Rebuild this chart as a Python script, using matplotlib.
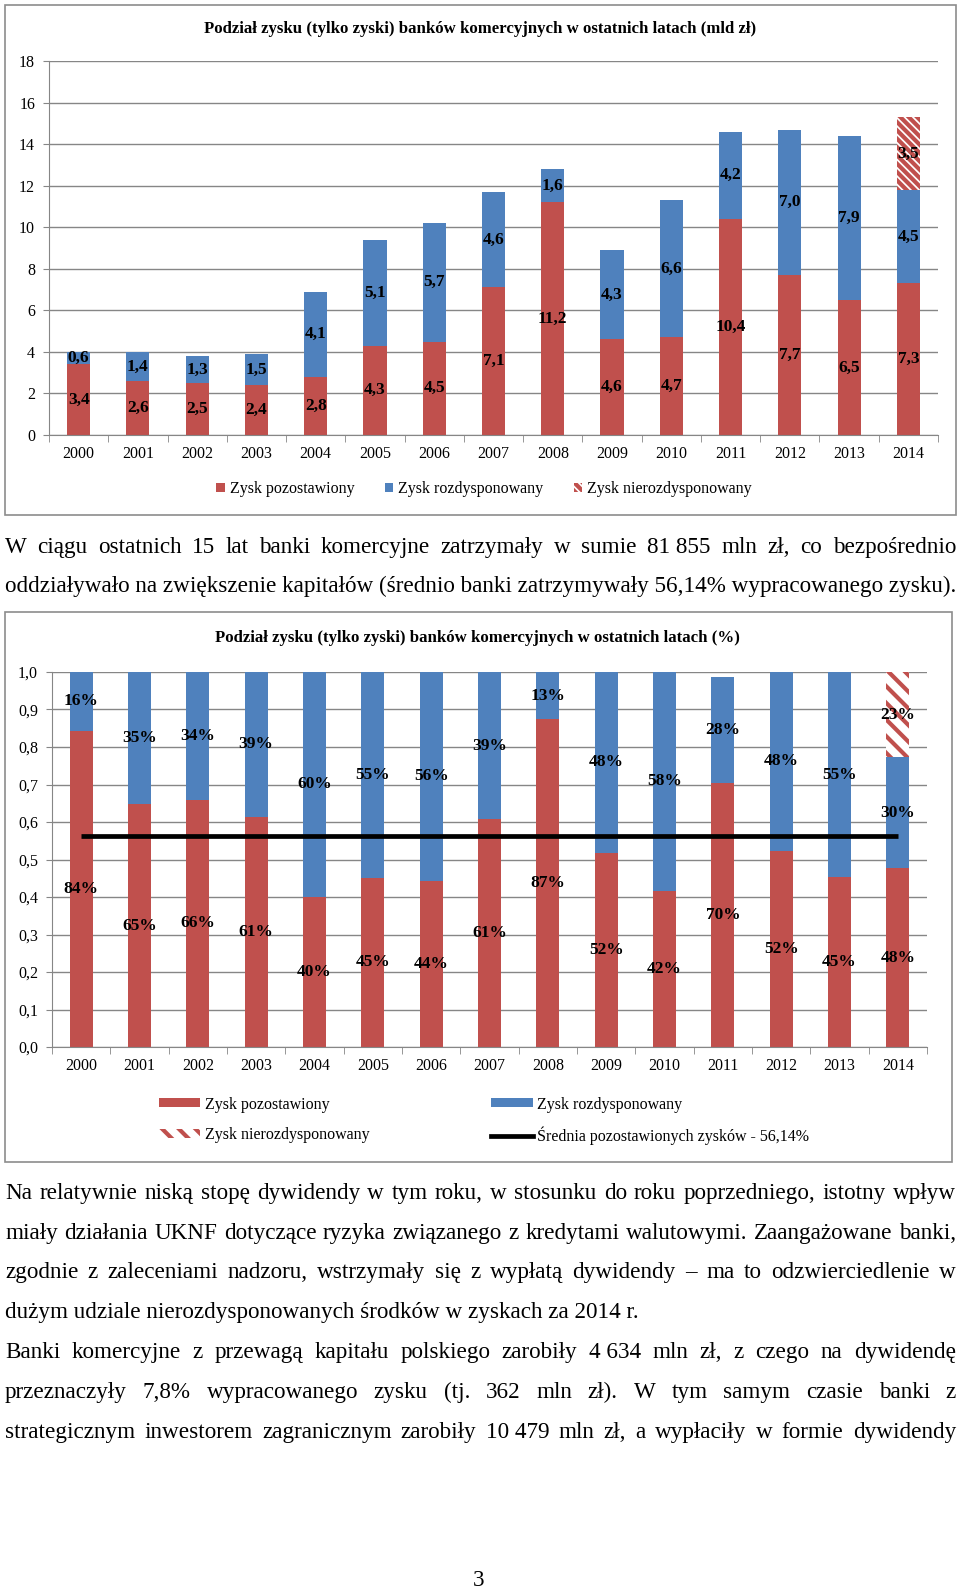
import numpy as np
import matplotlib
matplotlib.use('Agg')
import matplotlib.pyplot as plt
from matplotlib.patches import Rectangle, Patch
from matplotlib.lines import Line2D

plt.rcParams['font.family'] = ['Liberation Serif', 'DejaVu Serif']
plt.rcParams['hatch.linewidth'] = 3.0

W, H = 960, 1589
CZERWONY = '#C0504D'
NIEBIESKI = '#4F81BD'
SZARY = '#868686'

# ─────────────────────────────────────────────
# DANE
# ─────────────────────────────────────────────
LATA = [str(r) for r in range(2000, 2015)]

# mld zł
ZYSK_POZOSTAWIONY = [3.4, 2.6, 2.5, 2.4, 2.8, 4.3, 4.5, 7.1, 11.2, 4.6, 4.7, 10.4, 7.7, 6.5, 7.3]
ZYSK_ROZDYSPONOWANY = [0.6, 1.4, 1.3, 1.5, 4.1, 5.1, 5.7, 4.6, 1.6, 4.3, 6.6, 4.2, 7.0, 7.9, 4.5]
ZYSK_NIEROZDYSPONOWANY = [0, 0, 0, 0, 0, 0, 0, 0, 0, 0, 0, 0, 0, 0, 3.5]

# udział w zysku
UDZIAL_POZOSTAWIONY = [0.843, 0.648, 0.659, 0.614, 0.401, 0.452, 0.444, 0.607, 0.874, 0.518,
                       0.417, 0.703, 0.523, 0.453, 0.477]
UDZIAL_ROZDYSPONOWANY = [0.157, 0.352, 0.341, 0.386, 0.599, 0.548, 0.556, 0.393, 0.126, 0.482,
                         0.583, 0.284, 0.477, 0.547, 0.296]
UDZIAL_NIEROZDYSPONOWANY = [0, 0, 0, 0, 0, 0, 0, 0, 0, 0, 0, 0, 0, 0, 0.227]
SREDNIA_POZOSTAWIONYCH = 0.5614

TYTUL_1 = 'Podział zysku (tylko zyski) banków komercyjnych w ostatnich latach (mld zł)'
TYTUL_2 = 'Podział zysku (tylko zyski) banków komercyjnych w ostatnich latach (%)'
ETYKIETY = ['Zysk pozostawiony', 'Zysk rozdysponowany', 'Zysk nierozdysponowany']
ETYKIETA_SREDNIEJ = 'Średnia pozostawionych zysków - 56,14%'

NBSP = '\u00a0'
AKAPIT_1 = [
    ('W ciągu ostatnich 15 lat banki komercyjne zatrzymały w sumie 81' + NBSP + '855 mln zł, co bezpośrednio', True),
    ('oddziaływało na zwiększenie kapitałów (średnio banki zatrzymywały 56,14% wypracowanego zysku).', False),
]
AKAPIT_2 = [
    ('Na relatywnie niską stopę dywidendy w tym roku, w stosunku do roku poprzedniego, istotny wpływ', True),
    ('miały działania UKNF dotyczące ryzyka związanego z kredytami walutowymi. Zaangażowane banki,', True),
    ('zgodnie z zaleceniami nadzoru, wstrzymały się z wypłatą dywidendy – ma to odzwierciedlenie w', True),
    ('dużym udziale nierozdysponowanych środków w zyskach za 2014 r.', False),
    ('Banki komercyjne z przewagą kapitału polskiego zarobiły 4' + NBSP + '634 mln zł, z czego na dywidendę', True),
    ('przeznaczyły 7,8% wypracowanego zysku (tj. 362 mln zł). W tym samym czasie banki z', True),
    ('strategicznym inwestorem zagranicznym zarobiły 10' + NBSP + '479 mln zł, a wypłaciły w formie dywidendy', True),
]


def fx(x):
    return x / W


def fy(y):
    return 1 - y / H


fig = plt.figure(figsize=(W / 100, H / 100), dpi=100)
renderer = fig.canvas.get_renderer()


def szerokosc(tekst, fontsize, **kw):
    t = fig.text(0, 0, tekst, fontsize=fontsize, **kw)
    w = t.get_window_extent(renderer=renderer).width
    t.remove()
    return w


def dopasuj(tekst, docelowa, **kw):
    return 10 * docelowa / szerokosc(tekst, 10, **kw)


def ramka(x0, y0, x1, y1):
    fig.add_artist(Rectangle((fx(x0), fy(y1)), (x1 - x0) / W, (y1 - y0) / H,
                             transform=fig.transFigure, fill=False, ec='#8c8c8c', lw=1.2))


def przygotuj_os(ax, ymax):
    ax.set_xlim(-0.5, len(LATA) - 0.5)
    ax.set_ylim(0, ymax)
    ax.set_xticks(range(len(LATA)))
    ax.set_xticklabels(LATA)
    ax.set_xticks(np.arange(-0.5, len(LATA), 1), minor=True)
    ax.tick_params(axis='x', which='major', length=0, pad=8, labelsize=11.5)
    ax.tick_params(axis='x', which='minor', length=5, color=SZARY)
    ax.tick_params(axis='y', length=4, color=SZARY, pad=6, labelsize=11.5)
    ax.yaxis.grid(True, color=SZARY, lw=1)
    ax.set_axisbelow(True)
    for s in ['top', 'right']:
        ax.spines[s].set_visible(False)
    for s in ['left', 'bottom']:
        ax.spines[s].set_color(SZARY)


def etykiety(ax, x, dol, wartosci, fmt):
    for xi, b, v in zip(x, dol, wartosci):
        if v > 0:
            ax.text(xi, b + v / 2, fmt(v), ha='center', va='center',
                    fontsize=12.5, fontweight='bold', color='black')


x = np.arange(len(LATA))

# ─────────────────────────────────────────────
# WYKRES 1 — mld zł
# ─────────────────────────────────────────────
ramka(5, 5, 956, 515)
fig.text(fx(480), fy(29), TYTUL_1, ha='center', va='center', fontweight='bold',
         fontsize=dopasuj(TYTUL_1, 552, fontweight='bold'))

ax1 = fig.add_axes([fx(49), fy(435), (938 - 49) / W, (435 - 61) / H])
przygotuj_os(ax1, 18)
ax1.set_yticks(range(0, 19, 2))

poz = np.array(ZYSK_POZOSTAWIONY)
roz = np.array(ZYSK_ROZDYSPONOWANY)
nie = np.array(ZYSK_NIEROZDYSPONOWANY)
ax1.bar(x, poz, width=0.39, color=CZERWONY)
ax1.bar(x, roz, width=0.39, bottom=poz, color=NIEBIESKI)
ax1.bar(x, nie, width=0.39, bottom=poz + roz, color='white', edgecolor=CZERWONY,
        lw=0, hatch='\\\\\\\\')

fmt_mld = lambda v: f'{v:.1f}'.replace('.', ',')
etykiety(ax1, x, np.zeros(len(x)), poz, fmt_mld)
etykiety(ax1, x, poz, roz, fmt_mld)
etykiety(ax1, x, poz + roz, nie, fmt_mld)

fig.legend(handles=[Patch(fc=CZERWONY), Patch(fc=NIEBIESKI),
                    Patch(fc='white', ec=CZERWONY, lw=0, hatch='\\\\\\\\')],
           labels=ETYKIETY, ncol=3, loc='center', bbox_to_anchor=(fx(484), fy(489)),
           frameon=False, handlelength=0.55, handleheight=0.55, handletextpad=0.3,
           columnspacing=1.9, fontsize=11.5)

# ─────────────────────────────────────────────
# WYKRES 2 — udział %
# ─────────────────────────────────────────────
ramka(5, 612, 952, 1162)
fig.text(fx(477), fy(638), TYTUL_2, ha='center', va='center', fontweight='bold',
         fontsize=dopasuj(TYTUL_2, 525, fontweight='bold'))

ax2 = fig.add_axes([fx(52), fy(1047), (927 - 52) / W, (1047 - 672) / H])
przygotuj_os(ax2, 1.0)
ticks = np.round(np.arange(0, 1.01, 0.1), 1)
ax2.set_yticks(ticks)
ax2.set_yticklabels([f'{t:.1f}'.replace('.', ',') for t in ticks])

upoz = np.array(UDZIAL_POZOSTAWIONY)
uroz = np.array(UDZIAL_ROZDYSPONOWANY)
unie = np.array(UDZIAL_NIEROZDYSPONOWANY)
ax2.bar(x, upoz, width=0.39, color=CZERWONY)
ax2.bar(x, uroz, width=0.39, bottom=upoz, color=NIEBIESKI)
ax2.bar(x, unie, width=0.39, bottom=upoz + uroz, color='white', edgecolor=CZERWONY,
        lw=0, hatch='\\\\')
ax2.plot(x, [SREDNIA_POZOSTAWIONYCH] * len(x), color='black', lw=3.4, solid_capstyle='butt')

fmt_pct = lambda v: f'{round(v * 100):d}%'
etykiety(ax2, x, np.zeros(len(x)), upoz, fmt_pct)
etykiety(ax2, x, upoz, uroz, fmt_pct)
etykiety(ax2, x, upoz + uroz, unie, fmt_pct)

fig.legend(handles=[Patch(fc=CZERWONY),
                    Patch(fc='white', ec=CZERWONY, lw=0, hatch='\\\\'),
                    Patch(fc=NIEBIESKI),
                    Line2D([], [], color='black', lw=3.4)],
           labels=[ETYKIETY[0], ETYKIETY[2], ETYKIETY[1], ETYKIETA_SREDNIEJ],
           ncol=2, loc='center', bbox_to_anchor=(fx(484), fy(1121)),
           frameon=False, handlelength=2.6, handleheight=0.5, handletextpad=0.3,
           columnspacing=7.6, labelspacing=0.9, fontsize=11.5)

# ─────────────────────────────────────────────
# TEKST
# ─────────────────────────────────────────────
X0, X1 = 5, 956
FS = dopasuj(AKAPIT_1[1][0], X1 - X0)


def linia(tekst, y, justuj):
    if not justuj:
        fig.text(fx(X0), fy(y), tekst, fontsize=FS, va='center_baseline')
        return
    slowa = tekst.split(' ')
    szer = [szerokosc(s, FS) for s in slowa]
    odstep = (X1 - X0 - sum(szer)) / (len(slowa) - 1)
    pos = X0
    for s, w in zip(slowa, szer):
        fig.text(fx(pos), fy(y), s, fontsize=FS, va='center_baseline')
        pos += w + odstep


for (t, j), y in zip(AKAPIT_1, [545, 584]):
    linia(t, y, j)
for (t, j), y in zip(AKAPIT_2, [1191, 1231, 1270, 1310, 1350, 1390, 1430]):
    linia(t, y, j)

fig.text(fx(479), fy(1578), '3', fontsize=FS, ha='center', va='center_baseline')

fig.savefig('out.png', dpi=100)
